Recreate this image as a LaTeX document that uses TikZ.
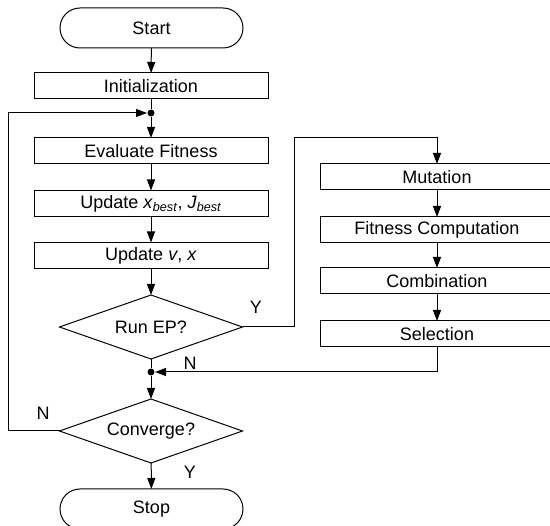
\documentclass[tikz,border=0pt]{standalone}
\usepackage{fontspec}
\setmainfont{Liberation Sans}
\usetikzlibrary{shapes.geometric,arrows.meta}

\begin{document}
\begin{tikzpicture}[x=1pt,y=-1pt,
  line width=1pt,
  every node/.style={font=\fontsize{18}{21}\selectfont},
  box/.style={draw, rectangle, minimum width=234pt, minimum height=26pt, inner sep=0pt, outer sep=0pt},
  term/.style={draw, rectangle, rounded corners=20pt, minimum width=183pt, minimum height=40pt, inner sep=0pt, outer sep=0pt},
  decision/.style={draw, diamond, aspect=2.86, minimum width=183pt, minimum height=64pt, inner sep=0pt, outer sep=0pt},
  junction/.style={circle, fill, inner sep=0pt, minimum size=7pt},
  arr/.style={-{Triangle[length=11pt,width=8pt]}},
  lab/.style={inner sep=0pt}]

\useasboundingbox (0,0) rectangle (550,526);
\clip (0,0) rectangle (550,526);

% main column
\node[term] (start) at (151.5,28) {Start};
\node[box] (init) at (151,86) {Initialization};
\node[junction] (j1) at (151,113) {};
\node[box] (eval) at (151,151) {Evaluate Fitness};
\node[box] (upbest) at (151,203.5) {Update \textit{x}\textsubscript{\textit{best}}, \textit{J}\textsubscript{\textit{best}}};
\node[box] (upvx) at (151,255.5) {Update \textit{v}, \textit{x}};
\node[decision] (runep) at (151,327) {Run EP?};
\node[junction] (j2) at (151,372) {};
\node[decision] (conv) at (151,431) {Converge?};
\node[term] (stop) at (151.5,509) {Stop};

% EP branch
\node[box] (mut) at (437,177) {Mutation};
\node[box] (fit) at (437,230) {Fitness Computation};
\node[box] (comb) at (437,281) {Combination};
\node[box] (sel) at (437,334) {Selection};

\coordinate (epbend) at (294,138);
\coordinate (loopbend) at (8,431);

% connectors
\draw[arr] (start) -- (init);
\draw (init) -- (j1);
\draw[arr] (j1) -- (eval);
\draw[arr] (eval) -- (upbest);
\draw[arr] (upbest) -- (upvx);
\draw[arr] (upvx) -- (runep);
\draw (runep) -- (j2);
\draw[arr] (j2) -- (conv);
\draw[arr] (conv) -- (stop);

\draw[arr] (runep.east) -| (epbend) -| (mut.north);
\draw[arr] (mut) -- (fit);
\draw[arr] (fit) -- (comb);
\draw[arr] (comb) -- (sel);
\draw[arr] (sel.south) |- (j2);

\draw[arr] (conv.west) -- (loopbend) |- (j1);

% branch labels
\node[lab] (yep) at (256,307) {Y};
\node[lab] (nep) at (190,363) {N};
\node[lab] (nconv) at (43,413) {N};
\node[lab] (yconv) at (190,472) {Y};
\end{tikzpicture}
\end{document}
